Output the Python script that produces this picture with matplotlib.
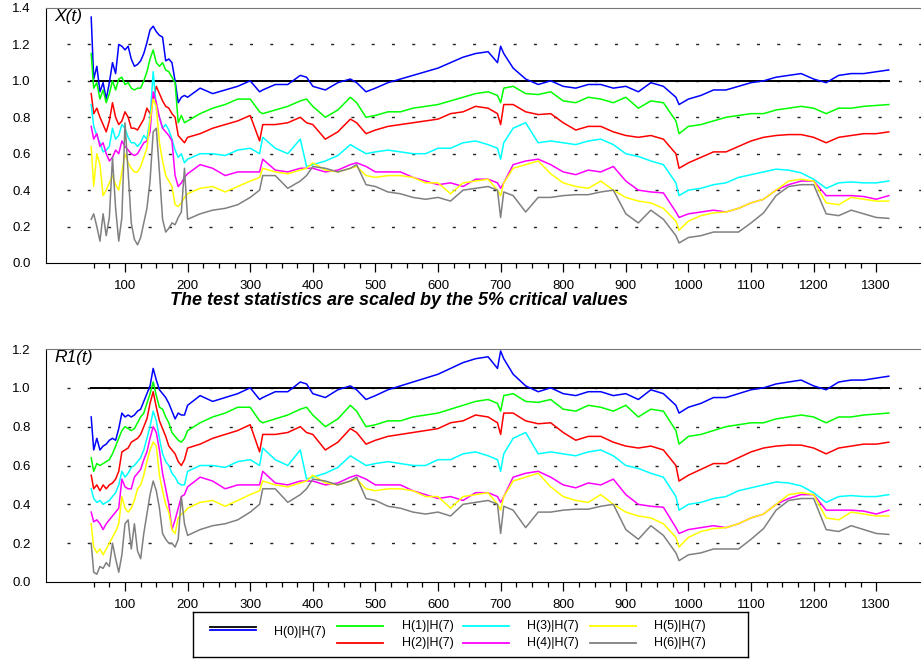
import numpy as np
import matplotlib.pyplot as plt

plt.rcParams['font.family'] = ['Liberation Sans', 'DejaVu Sans']

# observation index, dense at the start where the statistics are erratic
t_head = [46, 50, 55, 60, 65, 70, 75, 80, 85, 90,
          95, 100, 105, 110, 115, 120, 125, 130, 135, 140,
          145, 150, 155, 160, 165, 170, 175, 180, 185, 190, 195]
t_tail = [200, 220, 240, 260, 280, 300, 315, 320, 340, 360, 380, 390,
          400, 420, 440, 460, 470, 485, 500, 520, 540, 560, 580, 600,
          620, 640, 660, 680, 695, 700, 705, 720, 740, 760, 780, 800,
          820, 840, 860, 880, 900, 920, 940, 960, 980, 985, 1000, 1020,
          1040, 1060, 1080, 1100, 1120, 1140, 1160, 1180, 1200, 1220,
          1240, 1260, 1280, 1300, 1320]

# X(t), first 150 observations
xt_blue = [1.35, 1.01, 1.08, 0.94, 0.99, 0.90, 0.99, 1.10, 1.04, 1.20,
           1.19, 1.17, 1.19, 1.12, 1.08, 1.09, 1.11, 1.15, 1.21, 1.28,
           1.30, 1.27, 1.25, 1.24, 1.11, 1.12, 1.10, 1.00, 0.88, 0.91, 0.92]
xt_green = [1.15, 0.96, 0.99, 0.90, 0.95, 0.88, 0.93, 1.00, 0.95, 1.01,
            1.02, 0.98, 0.99, 0.96, 0.95, 0.96, 0.96, 1.00, 1.05, 1.12,
            1.17, 1.10, 1.08, 1.10, 1.06, 1.05, 1.02, 0.99, 0.77, 0.81, 0.77]
xt_red = [0.93, 0.82, 0.85, 0.80, 0.76, 0.72, 0.78, 0.88, 0.80, 0.76,
          0.78, 0.83, 0.80, 0.74, 0.74, 0.73, 0.76, 0.79, 0.85, 0.82,
          0.90, 0.97, 0.93, 0.89, 0.86, 0.85, 0.82, 0.80, 0.70, 0.68, 0.66]
xt_cyan = [0.87, 0.75, 0.70, 0.66, 0.61, 0.62, 0.64, 0.74, 0.68, 0.70,
           0.76, 0.74, 0.69, 0.66, 0.66, 0.64, 0.66, 0.70, 0.68, 0.79,
           1.05, 0.85, 0.80, 0.74, 0.76, 0.73, 0.68, 0.62, 0.58, 0.60, 0.55]
xt_magenta = [0.75, 0.68, 0.71, 0.64, 0.66, 0.60, 0.56, 0.58, 0.62, 0.60,
              0.67, 0.64, 0.62, 0.60, 0.59, 0.60, 0.63, 0.66, 0.67, 0.72,
              0.94, 0.88, 0.80, 0.74, 0.72, 0.70, 0.67, 0.48, 0.42, 0.44, 0.47]
xt_yellow = [0.64, 0.42, 0.60, 0.54, 0.37, 0.40, 0.44, 0.48, 0.43, 0.40,
             0.50, 0.60, 0.55, 0.52, 0.50, 0.50, 0.53, 0.58, 0.63, 0.78,
             0.90, 0.86, 0.66, 0.56, 0.48, 0.45, 0.42, 0.32, 0.31, 0.33, 0.36]
xt_gray = [0.24, 0.27, 0.20, 0.12, 0.27, 0.15, 0.25, 0.58, 0.30, 0.12,
           0.25, 0.77, 0.50, 0.22, 0.13, 0.10, 0.14, 0.22, 0.30, 0.45,
           0.72, 0.74, 0.50, 0.24, 0.17, 0.19, 0.22, 0.21, 0.25, 0.28, 0.52]

# R1(t), first 150 observations
r1_blue = [0.85, 0.68, 0.74, 0.68, 0.70, 0.71, 0.73, 0.74, 0.73, 0.79,
           0.87, 0.85, 0.86, 0.85, 0.86, 0.88, 0.89, 0.93, 0.97, 1.01,
           1.10, 1.04, 0.99, 0.97, 0.95, 0.92, 0.88, 0.84, 0.87, 0.86, 0.86]
r1_green = [0.64, 0.57, 0.61, 0.60, 0.61, 0.62, 0.63, 0.66, 0.70, 0.74,
            0.78, 0.80, 0.79, 0.78, 0.79, 0.82, 0.85, 0.87, 0.92, 0.97,
            1.03, 0.96, 0.90, 0.89, 0.85, 0.82, 0.77, 0.75, 0.73, 0.72, 0.74]
r1_red = [0.55, 0.48, 0.50, 0.47, 0.50, 0.48, 0.50, 0.51, 0.53, 0.57,
          0.67, 0.68, 0.69, 0.72, 0.73, 0.74, 0.76, 0.80, 0.84, 0.92,
          0.98, 0.90, 0.83, 0.79, 0.75, 0.70, 0.68, 0.66, 0.62, 0.60, 0.63]
r1_cyan = [0.48, 0.43, 0.41, 0.42, 0.40, 0.41, 0.42, 0.44, 0.46, 0.50,
           0.57, 0.54, 0.56, 0.59, 0.60, 0.62, 0.64, 0.68, 0.74, 0.80,
           0.88, 0.83, 0.74, 0.66, 0.62, 0.60, 0.56, 0.54, 0.51, 0.50, 0.50]
r1_magenta = [0.36, 0.31, 0.32, 0.30, 0.27, 0.30, 0.32, 0.34, 0.36, 0.38,
              0.53, 0.49, 0.48, 0.48, 0.54, 0.56, 0.58, 0.63, 0.67, 0.74,
              0.80, 0.77, 0.68, 0.56, 0.48, 0.40, 0.27, 0.32, 0.38, 0.44, 0.45]
r1_yellow = [0.30, 0.18, 0.15, 0.17, 0.14, 0.17, 0.20, 0.23, 0.26, 0.30,
             0.44, 0.38, 0.36, 0.38, 0.42, 0.48, 0.50, 0.55, 0.62, 0.68,
             0.72, 0.70, 0.55, 0.47, 0.40, 0.36, 0.27, 0.25, 0.33, 0.35, 0.36]
r1_gray = [0.20, 0.05, 0.04, 0.08, 0.07, 0.10, 0.08, 0.20, 0.12, 0.05,
           0.14, 0.30, 0.32, 0.17, 0.30, 0.16, 0.12, 0.25, 0.35, 0.45,
           0.52, 0.47, 0.38, 0.25, 0.22, 0.20, 0.20, 0.18, 0.22, 0.44, 0.30]

# from t=200 on both statistics coincide
blue_tail = [0.91, 0.96, 0.93, 0.95, 0.97, 1.00, 0.94, 0.95, 0.98, 0.98, 1.03, 1.02,
             0.97, 0.95, 0.99, 1.01, 0.99, 0.94, 0.96, 0.99, 1.01, 1.03, 1.05, 1.07,
             1.10, 1.13, 1.15, 1.16, 1.10, 1.19, 1.15, 1.07, 1.01, 0.98, 1.00, 0.97,
             0.96, 0.98, 0.98, 0.96, 0.97, 0.94, 0.99, 0.97, 0.91, 0.87, 0.90, 0.92,
             0.95, 0.95, 0.97, 0.99, 1.00, 1.02, 1.03, 1.04, 1.01, 0.99,
             1.03, 1.04, 1.04, 1.05, 1.06]
green_tail = [0.78, 0.82, 0.85, 0.87, 0.90, 0.90, 0.83, 0.82, 0.84, 0.86, 0.89, 0.90,
              0.86, 0.80, 0.84, 0.91, 0.88, 0.80, 0.81, 0.83, 0.83, 0.85, 0.86, 0.87,
              0.89, 0.91, 0.93, 0.94, 0.92, 0.88, 0.96, 0.97, 0.93, 0.925, 0.94, 0.89,
              0.88, 0.91, 0.90, 0.88, 0.91, 0.85, 0.89, 0.88, 0.78, 0.71, 0.75, 0.76,
              0.78, 0.80, 0.81, 0.82, 0.82, 0.84, 0.85, 0.86, 0.85, 0.82,
              0.85, 0.85, 0.86, 0.865, 0.87]
red_tail = [0.69, 0.71, 0.74, 0.76, 0.78, 0.81, 0.67, 0.76, 0.76, 0.77, 0.80, 0.77,
            0.76, 0.68, 0.72, 0.79, 0.77, 0.71, 0.73, 0.75, 0.76, 0.77, 0.78, 0.79,
            0.82, 0.83, 0.86, 0.85, 0.82, 0.76, 0.87, 0.87, 0.83, 0.815, 0.82, 0.77,
            0.73, 0.75, 0.75, 0.72, 0.70, 0.69, 0.70, 0.68, 0.60, 0.52, 0.55, 0.58,
            0.61, 0.61, 0.64, 0.67, 0.69, 0.70, 0.705, 0.705, 0.69, 0.66,
            0.69, 0.70, 0.71, 0.71, 0.72]
cyan_tail = [0.57, 0.60, 0.60, 0.59, 0.62, 0.63, 0.60, 0.69, 0.63, 0.60, 0.68, 0.53,
             0.54, 0.56, 0.59, 0.65, 0.63, 0.60, 0.61, 0.62, 0.61, 0.60, 0.60, 0.63,
             0.63, 0.66, 0.67, 0.65, 0.63, 0.57, 0.66, 0.74, 0.77, 0.66, 0.67, 0.66,
             0.65, 0.67, 0.68, 0.65, 0.60, 0.585, 0.56, 0.54, 0.44, 0.37, 0.40, 0.41,
             0.43, 0.44, 0.47, 0.485, 0.50, 0.515, 0.51, 0.495, 0.46, 0.41,
             0.44, 0.445, 0.44, 0.44, 0.45]
magenta_tail = [0.49, 0.54, 0.52, 0.48, 0.50, 0.50, 0.50, 0.57, 0.51, 0.50, 0.52, 0.52,
                0.52, 0.50, 0.51, 0.54, 0.55, 0.53, 0.50, 0.50, 0.50, 0.47, 0.45, 0.43,
                0.44, 0.42, 0.46, 0.46, 0.44, 0.41, 0.44, 0.54, 0.56, 0.57, 0.54, 0.50,
                0.485, 0.51, 0.50, 0.53, 0.45, 0.40, 0.39, 0.385, 0.28, 0.25, 0.27, 0.28,
                0.29, 0.28, 0.30, 0.33, 0.35, 0.40, 0.43, 0.45, 0.45, 0.37,
                0.37, 0.37, 0.365, 0.35, 0.37]
yellow_tail = [0.38, 0.41, 0.42, 0.39, 0.42, 0.45, 0.47, 0.52, 0.50, 0.49, 0.51, 0.52,
               0.55, 0.51, 0.50, 0.52, 0.53, 0.48, 0.47, 0.48, 0.48, 0.47, 0.44, 0.44,
               0.38, 0.44, 0.45, 0.46, 0.40, 0.37, 0.44, 0.52, 0.54, 0.56, 0.49, 0.44,
               0.42, 0.41, 0.45, 0.40, 0.36, 0.34, 0.33, 0.30, 0.23, 0.18, 0.23, 0.26,
               0.275, 0.28, 0.30, 0.33, 0.35, 0.40, 0.45, 0.46, 0.45, 0.33,
               0.32, 0.36, 0.35, 0.34, 0.34]
gray_tail = [0.24, 0.27, 0.29, 0.30, 0.32, 0.36, 0.40, 0.48, 0.48, 0.41, 0.45, 0.48,
             0.53, 0.52, 0.50, 0.52, 0.54, 0.43, 0.42, 0.39, 0.38, 0.36, 0.35, 0.36,
             0.34, 0.40, 0.41, 0.42, 0.40, 0.25, 0.39, 0.37, 0.28, 0.36, 0.36, 0.37,
             0.375, 0.375, 0.39, 0.40, 0.27, 0.22, 0.29, 0.24, 0.15, 0.11, 0.14, 0.15,
             0.17, 0.17, 0.17, 0.22, 0.275, 0.37, 0.42, 0.43, 0.43, 0.27,
             0.26, 0.29, 0.27, 0.25, 0.245]

tails = [blue_tail, green_tail, red_tail, cyan_tail, magenta_tail, yellow_tail, gray_tail]
xt_heads = [xt_blue, xt_green, xt_red, xt_cyan, xt_magenta, xt_yellow, xt_gray]
r1_heads = [r1_blue, r1_green, r1_red, r1_cyan, r1_magenta, r1_yellow, r1_gray]
colors = ['#0000ff', '#00ff00', '#ff0000', '#00ffff', '#ff00ff', '#ffff00', '#808080']

t = np.array(t_head + t_tail)

fig = plt.figure(figsize=(9.21, 6.63), dpi=100)
ax1 = fig.add_axes([46 / 921, 1 - 263 / 663, 875 / 921, 255 / 663])
ax2 = fig.add_axes([46 / 921, 1 - 582 / 663, 875 / 921, 233 / 663])

for ax, heads, ymax, name in [(ax1, xt_heads, 1.4, 'X(t)'), (ax2, r1_heads, 1.2, 'R1(t)')]:
    # sparse dotted guide lines
    for lev in np.arange(0.2, ymax - 0.1, 0.2):
        ax.plot([7, 1372], [lev, lev], color='#222222', lw=1.0,
                ls=(0, (2.2, 12.4)), zorder=0)
    # critical value
    ax.plot([45, 1320], [1, 1], color='black', lw=1.4, zorder=1)
    for head, tail, c in zip(heads, tails, colors):
        ax.plot(t, head + tail, color=c, lw=1.1, zorder=2)

    ax.set_xlim(-26.2, 1371.5)
    ax.set_ylim(0, ymax)
    ax.set_yticks(np.arange(0, ymax + 0.01, 0.2))
    ax.set_yticklabels(['%.1f' % v for v in np.arange(0, ymax + 0.01, 0.2)])
    ax.set_xticks(range(100, 1301, 100))
    ax.set_xticks([m for m in range(50, 1300, 25) if m % 100], minor=True)
    ax.tick_params(axis='y', length=0, pad=11, labelsize=9.5)
    ax.tick_params(axis='x', which='major', length=6.5, width=0.9,
                   direction='out', labelsize=9.5, pad=6)
    ax.tick_params(axis='x', which='minor', length=3.5, width=0.9, direction='out')
    ax.spines['right'].set_visible(False)
    ax.spines['top'].set_color('#777777')
    ax.text(0.01, 0.995, name, transform=ax.transAxes, ha='left', va='top',
            style='italic', fontsize=12.5)

fig.text(399 / 921, 1 - 305 / 663,
         'The test statistics are scaled by the 5% critical values',
         ha='center', va='baseline', fontsize=13, fontweight='bold', style='italic')

# legend box
lax = fig.add_axes([193 / 921, 1 - 657 / 663, 555 / 921, 45 / 663])
lax.set_xlim(0, 1)
lax.set_ylim(0, 1)
lax.set_xticks([])
lax.set_yticks([])
for sp in lax.spines.values():
    sp.set_linewidth(1.0)

line_x = [0.031, 0.259, 0.486, 0.715]
text_x = [0.146, 0.377, 0.602, 0.831]
row_y = [0.689, 0.318]
lax.plot([line_x[0], line_x[0] + 0.083], [0.667, 0.667], color='black', lw=1.3)
lax.plot([line_x[0], line_x[0] + 0.083], [0.60, 0.60], color=colors[0], lw=1.3)
lax.text(text_x[0], 0.56, 'H(0)|H(7)', va='center', fontsize=9)
for i in range(1, 7):
    col = (i + 1) // 2
    row = (i - 1) % 2
    lax.plot([line_x[col], line_x[col] + 0.083], [row_y[row], row_y[row]],
             color=colors[i], lw=1.3)
    lax.text(text_x[col], row_y[row], 'H(%d)|H(7)' % i, va='center', fontsize=9)

fig.savefig('out.png', dpi=100)
